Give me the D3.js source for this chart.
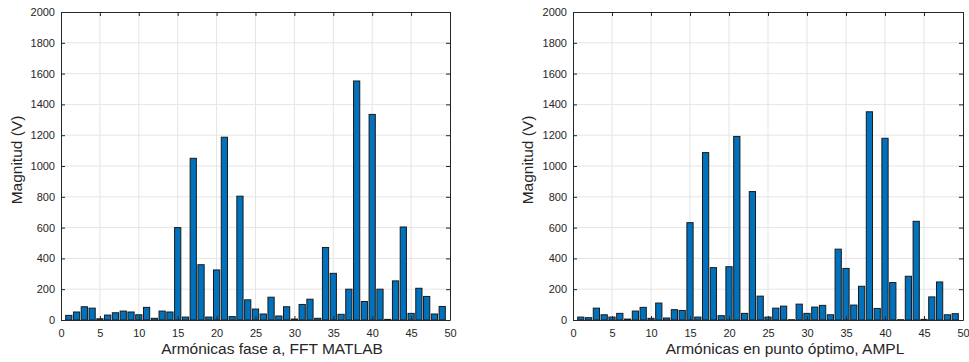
<!DOCTYPE html>
<html>
<head>
<meta charset="utf-8">
<script src="https://cdn.jsdelivr.net/npm/d3@7"></script>
<style>
  html, body { margin: 0; padding: 0; background: #fff; }
  svg { display: block; }
  text { font-family: "Liberation Sans", Arial, Helvetica, sans-serif; fill: #262626; }
</style>
</head>
<body>
<svg id="chart" width="969" height="362"></svg>
<script>
// Harmonic orders 1..49
const harmonics = d3.range(1, 50);

// Harmonic magnitudes (V), phase a, FFT in MATLAB
const fftMatlab = [
  30, 52, 86, 77, 8, 32, 47, 58, 52, 34,
  82, 11, 58, 52, 600, 19, 1050, 359, 19, 325,
  1187, 22, 804, 131, 71, 39, 148, 26, 86, 6,
  101, 135, 11, 471, 303, 37, 200, 1552, 120, 1335,
  200, 4, 254, 604, 43, 206, 153, 39, 88
];

// Harmonic magnitudes (V) at the optimum point, AMPL
const amplOptimo = [
  19, 15, 77, 34, 19, 43, 6, 58, 82, 11,
  110, 13, 67, 62, 632, 19, 1087, 340, 28, 346,
  1192, 43, 834, 155, 19, 77, 90, 2, 103, 43,
  84, 95, 34, 460, 335, 97, 219, 1352, 75, 1180,
  243, 2, 284, 641, 4, 150, 247, 34, 41
];

const xTicks = [0, 5, 10, 15, 20, 25, 30, 35, 40, 45, 50];
const yTicks = [0, 200, 400, 600, 800, 1000, 1200, 1400, 1600, 1800, 2000];

const panels = [
  { values: fftMatlab, xLabel: "Armónicas fase a, FFT MATLAB", left: 61, right: 450, xLabelX: 272, yLabelX: 22 },
  { values: amplOptimo, xLabel: "Armónicas en punto óptimo, AMPL", left: 573, right: 963, xLabelX: 785, yLabelX: 533 }
];

const svg = d3.select("#chart");
const plotTop = 12, plotBottom = 320;

panels.forEach(p => {
  const x = d3.scaleLinear().domain([0, 50]).range([p.left, p.right]);
  const y = d3.scaleLinear().domain([0, 2000]).range([plotBottom, plotTop]);
  const g = svg.append("g");

  // grid
  g.append("g").selectAll("line").data(xTicks.slice(1, -1)).join("line")
    .attr("x1", d => x(d)).attr("x2", d => x(d))
    .attr("y1", plotTop).attr("y2", plotBottom)
    .attr("stroke", "#e5e5e5").attr("stroke-width", 1);
  g.append("g").selectAll("line").data(yTicks.slice(1, -1)).join("line")
    .attr("x1", p.left).attr("x2", p.right)
    .attr("y1", d => y(d)).attr("y2", d => y(d))
    .attr("stroke", "#e5e5e5").attr("stroke-width", 1);

  // bars (MATLAB default width 0.8)
  const bw = 0.8;
  g.append("g").selectAll("rect").data(harmonics).join("rect")
    .attr("x", h => x(h - bw / 2))
    .attr("width", h => x(h + bw / 2) - x(h - bw / 2))
    .attr("y", (h, i) => y(p.values[i]))
    .attr("height", (h, i) => y(0) - y(p.values[i]))
    .attr("fill", "#0072BD")
    .attr("stroke", "#1a1a1a")
    .attr("stroke-width", 1);

  // axes with inward ticks
  const axB = d3.axisBottom(x).tickValues(xTicks).tickSizeInner(-4).tickSizeOuter(0).tickPadding(9).tickFormat(d3.format("d"));
  const axT = d3.axisTop(x).tickValues(xTicks).tickSizeInner(-4).tickSizeOuter(0).tickFormat("");
  const axL = d3.axisLeft(y).tickValues(yTicks).tickSizeInner(-4).tickSizeOuter(0).tickPadding(6).tickFormat(d3.format("d"));
  const axR = d3.axisRight(y).tickValues(yTicks).tickSizeInner(-4).tickSizeOuter(0).tickFormat("");

  const style = sel => {
    sel.selectAll("path").attr("stroke", "#262626");
    sel.selectAll("line").attr("stroke", "#262626");
    sel.selectAll("text").attr("fill", "#262626")
      .style("font-family", '"Liberation Sans", Arial, sans-serif').style("font-size", "11px");
  };
  g.append("g").attr("transform", `translate(0,${plotBottom})`).call(axB).call(style);
  g.append("g").attr("transform", `translate(0,${plotTop})`).call(axT).call(style);
  g.append("g").attr("transform", `translate(${p.left},0)`).call(axL).call(style);
  g.append("g").attr("transform", `translate(${p.right},0)`).call(axR).call(style);

  // axis titles
  g.append("text")
    .attr("x", p.xLabelX).attr("y", 354)
    .attr("text-anchor", "middle")
    .style("font-size", "15.5px")
    .text(p.xLabel);
  g.append("text")
    .attr("transform", `translate(${p.yLabelX},160) rotate(-90)`)
    .attr("text-anchor", "middle")
    .style("font-size", "15.5px")
    .text("Magnitud (V)");
});
</script>
</body>
</html>
